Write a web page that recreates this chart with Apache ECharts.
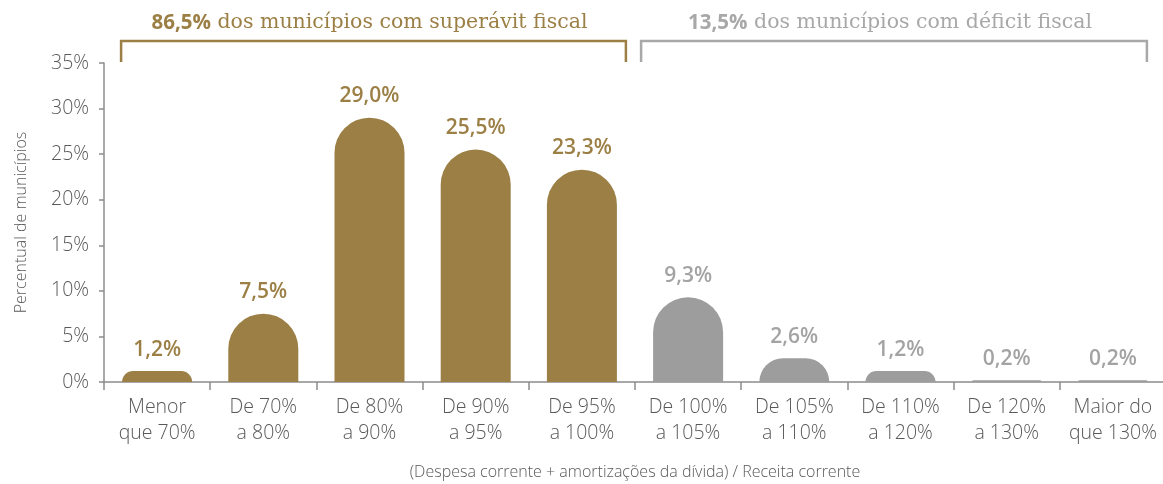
<!DOCTYPE html>
<html><head><meta charset="utf-8">
<script src="https://cdn.jsdelivr.net/npm/echarts@6/dist/echarts.min.js"></script>
<style>html,body{margin:0;padding:0;background:#fff}#c{width:1163px;height:484px}</style>
</head><body><div id="c"></div>
<script>
const categories = ['Menor\nque 70%','De 70%\na 80%','De 80%\na 90%','De 90%\na 95%','De 95%\na 100%','De 100%\na 105%','De 105%\na 110%','De 110%\na 120%','De 120%\na 130%','Maior do\nque 130%'];
const values = [1.2, 7.5, 29.0, 25.5, 23.3, 9.3, 2.6, 1.2, 0.2, 0.2];
const groupOf = ['s','s','s','s','s','d','d','d','d','d'];
const yTicks = [0, 5, 10, 15, 20, 25, 30, 35];
const headerSurplus = ['86,5%', ' dos municípios com superávit fiscal'];
const headerDeficit = ['13,5%', ' dos municípios com déficit fiscal'];
const GOLD = '#9b7f45', GRAY = '#9d9d9d', GRAYTXT = '#a3a3a3', AXIS = '#8c8c8c', TXT = '#595959';
const SANS = '"Open Sans", "Noto Sans", sans-serif';
const SERIF = '"DejaVu Serif", serif';

const chart = echarts.init(document.getElementById('c'), null, {renderer: 'canvas'});
const fmt = v => v.toFixed(1).replace('.', ',') + '%';
chart.setOption({
  animation: false,
  grid: {left: 104, top: 63, width: 1062, bottom: 102, containLabel: false, outerBoundsMode: 'none'},
  xAxis: {
    type: 'category', data: categories,
    name: '(Despesa corrente + amortizações da dívida) / Receita corrente',
    nameLocation: 'middle', nameGap: 82,
    nameTextStyle: {fontFamily: SANS, fontSize: 16, color: TXT, fontWeight: 300},
    axisLine: {lineStyle: {color: AXIS, width: 1.5}},
    axisTick: {show: true, length: 8, lineStyle: {color: AXIS, width: 1.5}},
    axisLabel: {fontFamily: SANS, fontSize: 19.5, color: TXT, lineHeight: 26, margin: 12, fontWeight: 300, interval: 0}
  },
  yAxis: {
    type: 'value', min: yTicks[0], max: yTicks[yTicks.length-1], interval: 5,
    name: 'Percentual de municípios', nameLocation: 'middle', nameGap: 75, nameRotate: 90,
    nameTextStyle: {fontFamily: SANS, fontSize: 16, color: TXT, fontWeight: 300},
    axisLine: {show: true, lineStyle: {color: AXIS, width: 1.5}},
    axisTick: {show: true, length: 5, lineStyle: {color: AXIS, width: 1.5}},
    splitLine: {show: false},
    axisLabel: {fontFamily: SANS, fontSize: 19.5, color: TXT, margin: 15, fontWeight: 300, formatter: v => v + '%'}
  },
  series: [{
    type: 'bar', barWidth: 70,
    data: values.map((v, i) => ({
      value: v,
      itemStyle: {color: groupOf[i] === 's' ? GOLD : GRAY, borderRadius: [35, 35, 0, 0]},
      label: {color: groupOf[i] === 's' ? GOLD : GRAYTXT}
    })),
    label: {show: true, position: 'top', distance: 11, fontFamily: SANS, fontSize: 21, fontWeight: 600, formatter: p => fmt(p.value)}
  }]
});

function bracket(i0, i1, offL, offR, color, header) {
  const xa = chart.convertToPixel({xAxisIndex: 0}, i0);
  const xb = chart.convertToPixel({xAxisIndex: 0}, i1);
  const yTop = chart.convertToPixel({yAxisIndex: 0}, yTicks[yTicks.length-1]);
  const x0 = xa - offL, x1 = xb + offR;
  const yb = yTop - 22;
  return [
    {type: 'polyline', shape: {points: [[x0, yTop - 1], [x0, yb], [x1, yb], [x1, yTop - 1]]},
     style: {stroke: color, lineWidth: 2.5, fill: null}},
    {type: 'text', x: (x0 + x1) / 2 - 4, y: yb - 18,
     style: {text: '{b|' + header[0] + '}{n|' + header[1] + '}', align: 'center', verticalAlign: 'middle',
       rich: {b: {fontFamily: SANS, fontSize: 20.5, fontWeight: 700, fill: color, color: color},
              n: {fontFamily: SERIF, fontSize: 20.5, fill: color, color: color}}}}
  ];
}
chart.setOption({graphic: [...bracket(0, 4, 36, 44, GOLD, headerSurplus), ...bracket(5, 9, 47, 34, '#a8a8a8', headerDeficit)]});
</script></body></html>
